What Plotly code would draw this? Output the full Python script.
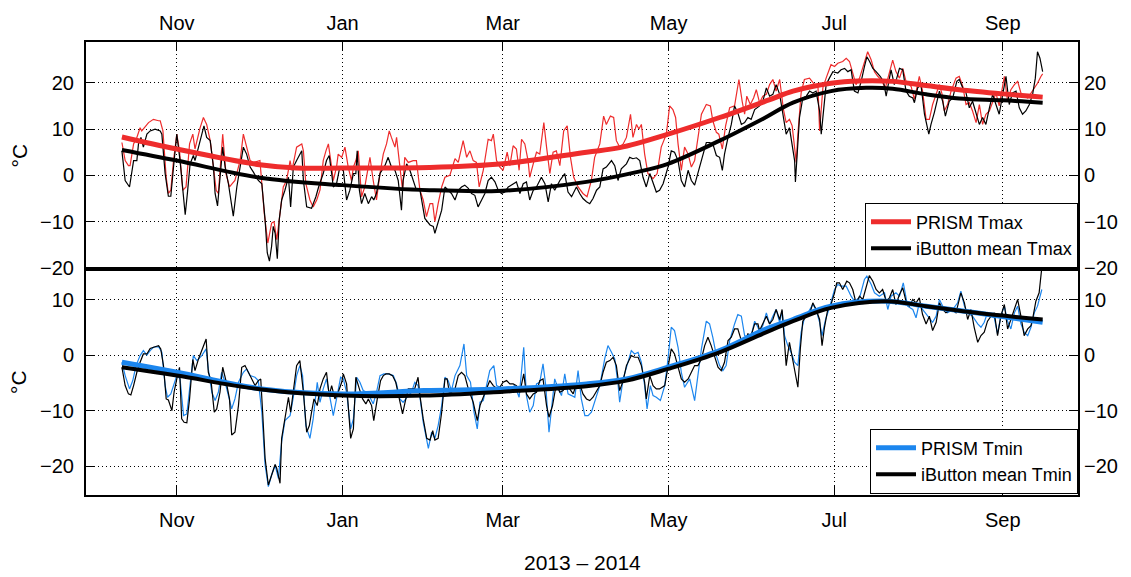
import numpy as np
import pandas as pd
import plotly.graph_objects as go

# ---------------- data (day offsets from 2013-11-01, values in degC) ----------------
BASE_DATE = "2013-11-01"
MONTH_TICKS = ["2013-11-01", "2014-01-01", "2014-03-01", "2014-05-01", "2014-07-01", "2014-09-01"]
MONTH_LABELS = ["Nov", "Jan", "Mar", "May", "Jul", "Sep"]
X_RANGE = ["2013-09-28 14:00", "2014-09-28 17:00"]

TMAX_TICKS = [-20, -10, 0, 10, 20]
TMIN_TICKS = [-20, -10, 0, 10]

# PRISM Tmax (daily)
TMAX_PRISM_D = [-20.2, -19.0, -17.8, -17.2, -15.9, -14.7, -13.5, -12.9, -10.4, -8.6, -6.7, -6.1, -5.1, -3.9, -3.1, -2.2, -1.2, 0.0, 1.0, 2.2, 3.4, 4.7, 5.9, 6.7, 8.6, 9.8, 11.0, 12.3, 13.2, 14.5, 15.3, 16.9, 18.1, 19.4, 21.4, 23.3, 24.5, 25.7, 27.0, 28.2, 30.6, 32.2, 33.5, 34.9, 35.8, 36.8, 38.0, 39.2, 40.4, 41.7, 42.4, 44.1, 46.0, 46.6, 47.5, 49.0, 50.2, 51.5, 52.7, 53.9, 54.9, 55.8, 57.0, 57.6, 58.8, 59.4, 60.7, 61.9, 63.1, 64.3, 65.0, 65.9, 66.8, 68.0, 69.2, 70.5, 71.1, 72.3, 73.5, 74.8, 76.0, 77.2, 78.2, 79.0, 80.3, 80.9, 82.1, 83.1, 83.9, 85.2, 87.0, 88.2,
                89.5, 90.7, 91.9, 93.2, 94.2, 95.0, 96.2, 97.5, 98.7, 100.5, 102.4, 103.6, 105.4, 106.7, 107.9, 109.1, 110.3, 111.3, 112.8, 114.6, 115.8, 116.5, 117.7, 118.9, 120.1, 121.6, 122.6, 123.8, 125.0, 126.0, 126.9, 128.1, 129.3, 129.9, 131.2, 132.4, 133.6, 135.1, 136.1, 137.3, 138.5, 139.7, 141.0, 142.4, 143.7, 144.9, 146.1, 147.7, 149.5, 151.0, 152.6, 153.8, 155.7, 157.1, 158.1, 159.6, 160.8, 161.8, 163.0, 164.3, 165.5, 167.0, 167.9, 169.2, 170.1, 171.0, 172.2, 173.4, 175.3, 176.8, 178.3, 180.2, 181.4, 182.6, 183.6, 184.5, 185.7, 186.9, 188.2, 189.4, 190.6, 191.8, 193.1, 194.9, 196.4, 197.3, 198.6, 199.5, 200.8, 202.0, 203.5, 205.3, 206.9, 208.1, 209.0, 209.8, 211.1, 212.3, 213.3,
                214.5, 215.7, 217.0, 218.2, 219.4, 220.6, 221.9, 222.5, 223.3, 224.3, 225.5, 226.5, 227.4, 228.0, 228.6, 229.8, 231.0, 232.9, 234.7, 236.0, 236.6, 237.8, 239.0, 240.8, 242.1, 243.3, 245.1, 246.4, 247.6, 248.8, 250.0, 251.3, 252.5, 254.3, 255.6, 256.8, 258.0, 259.2, 260.8, 262.3, 263.5, 264.7, 266.0, 267.2, 268.4, 270.3, 271.5, 273.3, 274.5, 275.8, 277.0, 278.2, 279.5, 280.7, 281.7, 282.5, 283.7, 285.0, 286.8, 288.0, 289.3, 290.5, 291.7, 292.9, 294.2, 295.4, 296.6, 297.8, 299.1, 300.3, 301.5, 302.7, 304.6, 305.8, 307.0, 308.3, 309.5, 310.7, 311.9, 313.2, 314.4, 315.6, 316.8, 318.1, 318.7]
TMAX_PRISM_V = [7.1, 3.2, 2.1, 2.1, 6.8, 8.2, 10.3, 9.6, 11.4, 12.1, 11.8, 11.8, 9.6, -0.4, -3.9, -3.2, 3.2, 8.9, 5.3, -3.2, -2.5, 6.8, 8.9, 5.7, 10.3, 12.5, 11.0, 7.5, 3.2, -3.2, -3.9, 8.9, 0.4, -2.5, -1.1, 3.2, 8.9, 6.1, 3.2, 2.8, 3.2, -8.2, -14.6, -10.3, -10.0, -13.9, -8.2, -2.5, -1.1, 3.2, 1.1, 6.1, 6.8, 5.3, -1.8, -5.3, -6.8, -5.3, -3.2, 3.2, 5.3, 6.8, 1.8, -1.1, 1.8, 4.6, 3.9, 6.1, 1.8, -1.1, 1.8, 3.2, 5.3, -4.6, -2.5, 1.8, 3.9, -1.1, -5.3, 0.4, 4.6, 6.8, 9.6, 8.2, 6.1, 8.2, 2.5, -3.2, 3.9, 2.8, 3.2, 3.2,
                -3.2, -5.3, -8.9, -6.1, -6.1, -10.0, -6.1, -2.5, -0.4, 0.0, 3.6, 2.8, 7.5, 3.9, 5.3, 3.2, 2.8, -2.5, 1.1, 7.8, 7.5, 8.9, 3.2, 1.8, 1.1, 5.0, 2.1, 6.4, 5.7, 1.1, 7.8, 6.8, 3.2, -0.4, 2.5, 5.0, 4.6, 11.4, 6.1, 0.4, 5.0, 5.3, 2.1, 9.6, 10.7, 3.9, -0.4, -2.5, -3.9, -4.6, -1.1, 3.9, 6.8, 12.8, 11.0, 12.8, 12.5, 7.5, 6.1, 6.8, 8.2, 13.2, 8.2, 11.0, 10.0, 11.0, 4.6, 0.4, -0.7, 0.4, 6.1, 8.9, 15.0, 14.2, 12.5, 6.8, 1.1, 6.1, 4.6, 1.8, 3.2, 8.2, 13.2, 15.3, 15.0, 11.8, 9.3, 8.9, 5.7, 10.7, 14.6, 15.0, 20.7, 16.0, 13.2, 17.1, 15.3, 16.7, 18.5,
                15.7, 17.1, 17.5, 19.6, 20.7, 18.2, 20.7, 17.8, 14.2, 11.4, 12.1, 10.7, 6.1, 2.8, 8.9, 17.8, 20.7, 21.0, 19.6, 19.2, 9.6, 18.9, 21.0, 23.9, 23.5, 24.2, 24.6, 25.3, 24.6, 22.1, 19.6, 21.0, 23.1, 26.7, 24.9, 22.4, 21.4, 20.7, 18.9, 22.1, 24.9, 22.4, 21.0, 23.1, 20.3, 19.2, 16.4, 21.4, 18.2, 12.1, 12.1, 15.3, 17.5, 19.6, 17.5, 13.9, 15.3, 18.2, 21.0, 21.4, 19.2, 15.3, 15.7, 13.9, 11.4, 15.3, 11.0, 13.2, 13.9, 16.0, 17.8, 15.0, 21.4, 16.0, 18.5, 19.6, 20.3, 17.8, 17.1, 16.7, 17.8, 18.9, 19.9, 21.4, 21.9]

# iButton mean Tmax (daily)
TMAX_IB_D = [-20.2, -19.0, -17.4, -15.9, -14.7, -14.1, -13.2, -12.3, -11.0, -9.8, -8.0, -6.1, -5.5, -4.3, -3.1, -2.2, -1.2, 0.0, 1.2, 3.1, 3.9, 4.9, 6.1, 6.7, 8.0, 9.2, 10.0, 11.0, 12.3, 13.5, 14.1, 15.0, 15.9, 16.9, 17.8, 19.0, 20.8, 22.1, 23.3, 24.5, 25.7, 27.0, 28.2, 30.0, 31.3, 32.5, 33.3, 34.1, 34.9, 35.5, 36.2, 37.0, 37.7, 38.6, 39.8, 41.1, 41.9, 42.9, 44.1, 46.0, 46.6, 47.8, 49.6, 51.2, 52.2, 53.9, 55.1, 56.1, 57.0, 57.6, 58.8, 60.0, 61.3, 62.5, 63.7, 65.0, 65.9, 66.4, 67.2, 68.0, 69.2, 70.5, 71.7, 72.5, 73.5, 74.8, 76.6, 77.8, 79.0, 80.3, 81.5, 82.7, 83.3, 84.6, 85.8, 87.0, 88.2,
             89.5, 91.3, 93.2, 94.4, 95.0, 96.2, 97.5, 98.7, 99.9, 101.1, 102.4, 103.6, 104.8, 106.0, 107.3, 108.5, 109.7, 110.9, 112.2, 113.4, 114.6, 115.8, 117.1, 118.3, 119.5, 120.7, 122.0, 123.8, 125.0, 126.3, 127.5, 128.7, 129.9, 131.2, 132.4, 134.2, 135.5, 136.7, 137.9, 139.1, 141.0, 142.8, 144.0, 145.3, 147.1, 148.3, 149.5, 150.8, 152.0, 153.2, 154.5, 155.7, 156.9, 158.1, 160.0, 161.2, 162.4, 163.6, 165.5, 166.7, 167.9, 169.2, 170.4, 171.6, 172.8, 174.1, 175.3, 176.5, 177.7, 179.0, 180.8, 182.0, 183.2, 184.5, 185.7, 186.9, 188.2, 189.4, 190.6, 191.8, 193.1, 194.9, 196.1, 197.3, 198.6, 199.8, 200.8, 201.6, 202.9, 204.1, 205.3, 206.5, 207.8, 209.0, 210.2, 211.4, 212.7,
             214.5, 215.7, 217.0, 218.2, 219.4, 220.6, 221.9, 223.1, 224.3, 225.5, 226.5, 227.4, 227.7, 228.3, 229.2, 230.4, 231.7, 232.9, 234.1, 235.3, 236.6, 237.2, 238.0, 239.0, 240.2, 241.5, 243.3, 244.5, 245.8, 247.0, 248.2, 249.4, 250.7, 251.9, 253.1, 254.0, 255.0, 256.2, 257.4, 258.9, 260.1, 261.1, 262.3, 262.9, 264.1, 265.0, 266.0, 267.2, 268.4, 269.6, 270.9, 271.5, 272.7, 273.9, 275.2, 276.8, 277.6, 278.8, 280.7, 281.9, 282.9, 284.3, 285.6, 287.1, 288.0, 289.3, 290.5, 291.7, 292.9, 294.2, 295.4, 296.6, 297.8, 299.1, 300.3, 301.5, 302.7, 304.0, 305.2, 306.4, 307.6, 308.9, 310.1, 311.3, 312.5, 313.8, 315.0, 316.0, 316.8, 317.7, 318.7]
TMAX_IB_V = [5.3, -1.1, -2.5, 3.2, 3.2, 6.8, 8.2, 6.1, 8.9, 9.6, 10.0, 9.6, 8.9, 0.4, -4.5, -4.5, 1.8, 8.9, 3.2, -8.5, -3.9, 2.5, 4.3, 3.2, 6.1, 8.9, 10.7, 8.2, 7.5, 1.8, -3.9, -6.6, 0.4, 6.1, 1.8, -1.8, -8.8, -2.5, 1.8, 6.1, 4.6, 1.8, 0.7, -1.1, -1.8, -9.6, -16.7, -18.5, -15.3, -11.0, -12.5, -18.0, -9.6, -5.3, -3.2, -0.4, -6.8, 1.8, 3.2, 5.3, -1.1, -6.8, -7.1, -4.6, -2.5, 0.4, 3.2, 4.3, 0.4, -2.5, -1.8, 1.8, 1.1, -5.3, -3.2, 0.4, 0.4, 5.3, -3.2, -6.1, -3.9, -6.1, -4.6, -5.3, -3.9, 0.4, 2.1, 3.9, 1.8, 1.1, -1.1, -7.5, -1.1, 2.5, 1.1, -1.1, -3.2,
             -3.2, -9.3, -10.7, -11.0, -12.5, -10.3, -7.5, -2.5, -3.2, -3.9, -5.3, -3.2, -2.5, -2.1, -2.8, -3.9, -4.3, -6.8, -5.3, -3.9, -1.1, -0.4, -1.4, -3.2, -3.9, -3.6, -2.5, -1.8, -1.4, -3.9, -1.8, -1.4, -5.3, -3.2, -2.5, -0.4, -1.8, -5.7, -1.8, -3.2, -1.1, 0.4, -3.6, -4.6, -2.5, -3.9, -5.0, -5.7, -6.1, -5.0, -3.2, -2.5, 1.4, 1.8, 3.2, 2.1, -1.1, 1.4, 2.5, 3.9, 3.6, 3.8, 3.2, -0.4, -2.5, 0.4, -1.8, -3.6, -3.2, -1.8, 1.8, 5.3, 5.0, 3.2, -1.1, -2.5, 1.1, -1.1, -2.1, 0.4, 3.2, 7.1, 7.1, 6.8, 4.3, 3.9, 1.1, 4.6, 8.2, 11.0, 15.0, 13.5, 11.0, 11.4, 12.5, 12.1, 14.2,
             15.0, 16.0, 18.9, 17.1, 17.5, 19.6, 17.5, 13.2, 8.9, 10.3, 6.8, 3.2, -1.4, 4.6, 12.5, 16.7, 17.1, 18.2, 17.8, 18.2, 13.9, 8.9, 13.2, 19.6, 21.0, 22.4, 22.1, 22.8, 23.1, 22.4, 22.8, 18.2, 17.8, 20.3, 23.5, 25.6, 24.6, 23.1, 22.4, 21.4, 20.3, 17.1, 21.0, 22.8, 19.6, 21.0, 23.1, 22.8, 18.2, 17.1, 16.7, 15.7, 18.9, 19.6, 13.2, 8.9, 11.0, 13.5, 18.2, 16.0, 12.8, 16.0, 16.7, 20.3, 20.7, 18.9, 17.8, 14.6, 16.0, 13.2, 11.0, 12.5, 11.0, 14.6, 17.5, 15.3, 13.2, 17.5, 21.4, 15.3, 17.8, 18.2, 14.6, 13.2, 13.9, 15.3, 17.5, 21.0, 26.7, 25.3, 22.4]

# PRISM Tmin (daily)
TMIN_PRISM_D = [-20.2, -19.0, -17.4, -16.2, -15.0, -13.5, -12.3, -11.0, -9.8, -8.6, -6.7, -5.5, -4.3, -3.4, -2.2, -1.0, 0.0, 1.2, 2.5, 3.7, 4.9, 6.1, 7.4, 9.2, 10.8, 11.6, 12.9, 14.1, 15.3, 16.5, 17.8, 19.0, 20.2, 21.4, 22.7, 24.5, 25.7, 27.0, 28.8, 30.0, 31.3, 32.5, 33.7, 34.9, 36.2, 37.4, 38.6, 39.8, 41.7, 42.9, 44.1, 45.3, 46.3, 47.5, 49.0, 50.2, 51.7, 52.7, 53.9, 55.1, 56.4, 57.6, 58.8, 60.3, 61.3, 62.5, 64.0, 65.0, 66.2, 67.4, 68.6, 69.9, 71.1, 72.3, 73.5, 74.8, 76.2, 77.8, 79.7, 80.9, 82.1, 83.3, 85.2, 86.4, 87.6, 88.8,
                89.5, 90.7, 92.6, 93.8, 95.0, 96.2, 97.5, 98.7, 99.9, 101.1, 102.4, 104.2, 105.7, 106.7, 108.1, 109.4, 110.6, 111.6, 112.8, 114.0, 115.2, 116.7, 117.7, 118.9, 120.1, 121.4, 123.2, 124.4, 126.0, 127.7, 128.7, 129.9, 131.2, 132.4, 133.6, 134.8, 135.8, 137.0, 137.9, 139.1, 140.4, 141.6, 142.8, 144.0, 145.3, 146.5, 147.7, 148.9, 150.2, 151.4, 152.6, 153.8, 155.7, 157.5, 158.7, 160.0, 161.2, 162.4, 163.0, 164.3, 165.7, 167.3, 168.5, 169.8, 171.0, 172.2, 173.1, 174.3, 175.3, 176.5, 178.0, 179.6, 180.8, 182.0, 183.2, 184.5, 185.7, 186.9, 188.8, 189.7, 190.6, 191.8, 193.1, 194.9, 196.1, 197.3, 198.6, 199.8, 201.0, 202.2, 203.5, 205.3, 206.5, 207.8, 209.0, 210.2, 211.4, 212.7, 213.9,
                214.5, 215.7, 217.0, 218.2, 219.4, 220.6, 221.9, 222.8, 223.7, 224.9, 226.1, 227.4, 228.6, 229.8, 231.0, 232.3, 234.1, 235.3, 236.6, 237.5, 238.8, 240.2, 242.1, 243.3, 244.5, 246.4, 248.2, 249.4, 251.3, 253.1, 254.0, 255.6, 256.8, 258.6, 260.5, 261.7, 262.9, 264.7, 266.0, 267.4, 269.0, 270.9, 272.1, 273.3, 274.5, 276.4, 278.2, 279.5, 280.7, 282.5, 283.7, 285.6, 287.4, 288.6, 289.9, 291.1, 292.9, 294.8, 296.0, 297.2, 298.4, 299.7, 300.9, 302.1, 303.3, 304.6, 305.8, 307.0, 308.3, 309.5, 310.7, 311.9, 313.2, 314.4, 315.6, 316.8, 318.4]
TMIN_PRISM_V = [-1.3, -3.7, -6.1, -4.6, -1.9, -0.1, 0.8, 0.0, 0.8, 1.4, 1.5, 0.5, -5.5, -7.6, -7.0, -5.2, -3.7, -4.3, -10.9, -10.6, -4.9, -0.1, -1.0, -0.1, 1.1, -2.5, -6.7, -8.2, -6.7, -3.1, -4.9, -7.3, -9.7, -7.9, -4.9, -3.1, -2.5, -3.7, -4.0, -4.6, -10.3, -19.8, -23.7, -21.6, -19.8, -22.2, -15.6, -11.8, -10.9, -7.6, -3.7, -1.9, -3.7, -12.7, -15.0, -11.5, -4.9, -8.5, -6.1, -4.3, -7.9, -10.9, -7.9, -4.0, -4.3, -6.7, -13.3, -11.5, -4.0, -4.9, -6.4, -6.7, -7.6, -8.8, -6.7, -3.7, -3.4, -3.4, -3.7, -5.2, -7.9, -8.5, -7.3, -6.7, -4.9, -5.5,
                -7.6, -12.1, -16.8, -13.9, -15.0, -12.7, -9.1, -4.0, -4.6, -6.4, -3.7, -1.9, 2.0, -3.7, -4.9, -10.3, -13.3, -8.5, -8.2, -5.2, -2.8, -1.9, -5.5, -5.8, -6.4, -5.8, -5.8, -5.5, -7.6, 1.4, -7.3, -10.3, -9.1, -5.2, -4.9, -1.6, -5.5, -13.9, -9.7, -4.3, -6.1, -7.3, -3.4, -7.0, -7.3, -7.6, -2.8, -7.9, -10.9, -10.9, -10.3, -8.5, -5.5, -0.7, 1.7, 0.5, -0.7, -5.2, -8.5, -4.3, -1.9, 0.8, 0.2, 0.5, -1.3, -5.5, -9.7, -5.5, -7.3, -7.6, -8.2, -5.5, -0.7, 5.0, 4.4, 1.4, -3.1, -5.8, -4.3, -6.1, -8.2, -3.7, 1.1, 6.1, 5.6, 3.2, -0.1, -1.9, -2.8, -1.9, 2.6, 5.6, 7.3, 7.0, 3.5, 3.2, 3.5, 6.1, 5.0,
                4.1, 5.3, 7.6, 5.6, 7.0, 8.2, 5.9, 7.9, 3.5, 1.7, 0.5, -1.3, -1.9, 4.1, 6.7, 7.6, 9.1, 8.2, 5.9, 3.5, 6.4, 8.5, 11.8, 12.7, 12.4, 12.4, 10.6, 9.7, 10.3, 13.6, 14.2, 12.7, 11.2, 10.6, 11.2, 8.2, 10.6, 11.2, 10.6, 13.0, 8.8, 8.2, 6.7, 9.4, 8.2, 7.0, 5.9, 7.0, 10.0, 8.2, 7.6, 8.2, 9.4, 11.5, 8.8, 7.6, 7.0, 5.6, 5.0, 5.9, 7.6, 7.0, 6.7, 3.8, 7.0, 8.8, 6.1, 4.7, 7.6, 8.8, 5.6, 4.1, 3.5, 5.0, 7.6, 8.8, 11.8]

# iButton mean Tmin (daily)
TMIN_IB_D = [-20.2, -19.0, -17.8, -16.9, -15.9, -14.7, -13.5, -12.3, -11.0, -9.8, -8.0, -6.7, -5.9, -4.9, -3.9, -3.1, -1.8, -1.0, 0.0, 1.0, 1.8, 2.7, 3.7, 4.7, 5.9, 6.7, 8.0, 9.2, 10.8, 11.6, 12.6, 13.8, 14.7, 15.9, 16.9, 18.1, 19.4, 20.2, 21.4, 22.7, 23.9, 25.1, 26.3, 27.6, 28.8, 30.0, 30.9, 31.6, 32.5, 33.7, 34.9, 36.2, 36.8, 38.0, 38.6, 39.8, 41.1, 41.9, 42.9, 44.1, 45.3, 46.6, 47.8, 48.8, 49.6, 50.5, 51.7, 52.7, 53.9, 55.1, 56.1, 57.0, 58.2, 59.4, 60.7, 61.3, 62.5, 64.0, 65.0, 65.9, 67.2, 68.4, 69.6, 70.5, 71.7, 72.5, 73.8, 75.0, 76.0, 77.0, 78.2, 79.4, 80.6, 81.9, 83.1, 84.3, 85.2, 86.4, 87.6, 88.8,
             89.5, 90.7, 92.0, 93.2, 94.2, 95.0, 96.2, 97.5, 98.7, 99.5, 100.3, 101.1, 102.4, 103.6, 104.8, 106.0, 107.3, 109.1, 110.6, 111.6, 112.8, 114.0, 115.2, 116.5, 117.9, 118.9, 120.1, 121.4, 122.6, 123.8, 125.0, 126.3, 127.7, 128.7, 129.9, 131.2, 132.4, 133.6, 134.8, 136.1, 137.0, 138.3, 139.7, 141.0, 142.2, 143.4, 144.6, 145.9, 147.1, 148.3, 149.5, 150.8, 152.0, 153.2, 154.5, 155.7, 156.9, 158.1, 159.4, 160.6, 161.8, 163.0, 164.3, 165.5, 167.3, 168.5, 169.8, 171.0, 172.2, 172.8, 174.1, 175.3, 176.5, 177.7, 179.6, 180.8, 182.0, 183.2, 184.5, 185.7, 186.9, 188.2, 189.4, 190.6, 191.8, 193.1, 194.3, 195.5, 196.7, 198.0, 199.2, 200.4, 201.6, 202.9, 204.1, 205.3, 206.5, 207.8, 209.0, 210.2, 211.4, 212.7, 213.9,
             214.5, 215.7, 217.0, 218.2, 219.4, 220.6, 221.9, 222.8, 223.7, 224.3, 225.5, 226.8, 228.0, 228.6, 229.5, 230.4, 231.7, 232.9, 234.1, 235.3, 236.6, 237.5, 238.4, 239.6, 240.8, 242.1, 242.9, 243.9, 245.1, 246.6, 247.6, 248.8, 250.0, 251.3, 252.5, 253.7, 254.9, 256.2, 257.4, 258.6, 259.8, 261.1, 262.3, 263.5, 264.7, 266.0, 267.2, 268.4, 269.6, 270.9, 272.1, 273.3, 274.5, 275.8, 277.0, 278.2, 279.5, 280.7, 281.9, 283.1, 285.0, 286.8, 288.6, 289.9, 291.1, 292.3, 293.5, 294.8, 296.0, 297.2, 298.4, 299.7, 300.9, 302.1, 303.3, 304.6, 305.8, 307.0, 308.3, 309.5, 310.7, 311.9, 313.2, 314.4, 315.2, 316.2, 317.4, 318.1, 318.7]
TMIN_IB_V = [-2.2, -5.5, -7.0, -7.2, -5.5, -3.1, -1.3, 0.2, 0.2, 1.2, 1.5, 1.7, 1.1, -1.9, -7.9, -8.1, -10.0, -6.7, -4.3, -2.2, -11.5, -12.1, -12.2, -7.9, -0.8, -2.8, -0.7, 0.8, 2.9, -3.1, -4.6, -10.3, -9.7, -6.7, -2.2, -4.6, -7.9, -14.4, -13.9, -9.1, -2.2, -1.9, -3.1, -4.6, -5.5, -4.6, -4.3, -10.3, -18.6, -23.4, -21.6, -19.7, -20.4, -23.1, -15.0, -11.5, -7.6, -10.3, -6.7, -1.9, -1.0, -6.7, -13.9, -12.7, -10.3, -7.9, -9.1, -6.1, -4.3, -3.1, -7.3, -5.5, -7.9, -6.7, -4.9, -3.4, -5.2, -15.0, -13.3, -4.0, -6.1, -7.9, -8.8, -7.9, -9.1, -11.8, -7.9, -4.6, -3.7, -3.4, -3.4, -3.7, -4.9, -7.9, -10.6, -7.9, -6.1, -6.1, -6.0, -4.0,
             -7.3, -11.5, -15.0, -15.3, -13.6, -15.3, -15.0, -10.3, -4.3, -4.3, -6.7, -6.7, -6.1, -3.7, -3.1, -3.7, -6.1, -8.5, -11.8, -9.1, -7.6, -6.4, -4.6, -5.5, -6.1, -5.8, -4.9, -4.6, -5.2, -5.2, -5.5, -6.7, -3.4, -7.0, -7.9, -7.0, -6.7, -4.6, -4.3, -9.1, -11.2, -9.1, -5.2, -6.7, -6.4, -5.5, -6.1, -7.0, -5.2, -5.2, -7.0, -7.9, -8.2, -7.6, -6.4, -5.5, -3.1, -1.3, -1.0, -0.4, -1.9, -6.4, -4.6, -1.9, -0.1, -0.4, -0.4, -1.9, -4.9, -7.9, -3.7, -5.5, -6.1, -6.1, -5.5, -2.2, 1.1, 0.2, -1.9, -4.3, -4.9, -4.3, -3.1, -1.9, -1.9, -0.7, 1.7, 3.2, 1.7, -0.4, -2.2, -2.8, -1.3, 2.6, 3.2, 4.7, 4.7, 2.6, 2.3, 3.8, 3.5, 5.6, 5.6,
             4.4, 5.6, 7.0, 5.6, 6.4, 8.2, 6.4, 8.2, 1.1, -1.9, 2.3, -1.3, -4.3, -5.8, 1.1, 6.1, 7.0, 7.3, 9.4, 8.2, 6.4, 1.7, 5.0, 8.2, 9.1, 11.2, 13.0, 13.0, 11.8, 13.3, 13.0, 11.8, 9.4, 10.6, 10.0, 12.4, 14.3, 13.3, 11.8, 11.2, 11.8, 9.7, 10.3, 11.8, 9.1, 10.9, 12.1, 9.7, 8.8, 10.0, 9.4, 10.3, 7.3, 5.6, 7.0, 4.4, 5.9, 9.4, 8.2, 7.6, 8.2, 7.6, 11.2, 9.4, 6.4, 8.2, 5.0, 2.3, 3.5, 4.1, 6.1, 7.0, 7.6, 3.5, 7.0, 9.1, 4.7, 6.4, 8.2, 10.0, 7.0, 3.5, 4.7, 5.3, 7.0, 9.7, 11.2, 15.4, 17.2]

# smoothed seasonal curves (read at sparse points)
TMAX_PRISM_SM_D = [-20.2, 0, 30.6, 44, 61, 93, 120, 150.8, 163, 180.8, 199.8, 218, 226.8, 240.8, 251.3, 263.5, 275.8, 288, 304, 318.7]
TMAX_PRISM_SM_V = [8.3, 5.7, 2.3, 1.6, 1.6, 1.7, 2.5, 5.0, 6.0, 8.9, 12.5, 16.3, 18.2, 19.9, 20.4, 20.3, 19.4, 18.5, 17.6, 16.9]
TMAX_IB_SM_D = [-20.2, 0, 30.6, 61, 93, 120, 150.8, 169.2, 180.8, 199.8, 216, 226.8, 240.8, 253.7, 263.5, 275.8, 288, 304, 318.7]
TMAX_IB_SM_V = [5.5, 3.2, -0.5, -2.1, -3.2, -3.3, -1.4, 0.7, 2.5, 7.5, 12.3, 15.7, 18.2, 18.9, 18.7, 17.5, 16.6, 16.2, 15.7]
TMIN_PRISM_SM_D = [-20.2, 0, 31.2, 61.3, 91, 120, 150.8, 165.5, 180.8, 199.8, 216, 226.8, 240.8, 261, 275.8, 294.2, 318.7]
TMIN_PRISM_SM_V = [-1.3, -3.1, -6.1, -7.0, -6.4, -6.1, -5.2, -4.3, -2.2, 0.8, 4.5, 6.4, 8.8, 9.7, 8.8, 7.6, 5.9]
TMIN_IB_SM_D = [-20.2, 0, 31.2, 61.3, 91, 120, 150.8, 165.5, 180.8, 199.8, 216, 226.8, 240.8, 261, 275.8, 294.2, 318.7]
TMIN_IB_SM_V = [-2.2, -3.7, -6.2, -7.3, -7.3, -6.6, -5.6, -4.6, -2.5, 0.5, 3.9, 6.1, 8.5, 9.7, 8.8, 7.6, 6.4]

# ---------------- helpers ----------------
base = pd.Timestamp(BASE_DATE)


def to_dates(days):
    return base + pd.to_timedelta(np.asarray(days, dtype=float), unit="D")


RED = "#EE2C2C"
BLUE = "#1C86EE"
BLACK = "#000000"
FONT = "Liberation Sans, Arial, sans-serif"
GRID_DASH = "1px,3px"

fig = go.Figure()

# top panel (xaxis2 / yaxis)
fig.add_trace(go.Scatter(x=to_dates(TMAX_PRISM_D), y=TMAX_PRISM_V, mode="lines",
                         line=dict(color=RED, width=1.2), xaxis="x2", yaxis="y", showlegend=False))
fig.add_trace(go.Scatter(x=to_dates(TMAX_IB_D), y=TMAX_IB_V, mode="lines",
                         line=dict(color=BLACK, width=1.2), xaxis="x2", yaxis="y", showlegend=False))
fig.add_trace(go.Scatter(x=to_dates(TMAX_PRISM_SM_D), y=TMAX_PRISM_SM_V, mode="lines", name="PRISM Tmax",
                         line=dict(color=RED, width=5, shape="spline", smoothing=1.0),
                         xaxis="x2", yaxis="y", legend="legend"))
fig.add_trace(go.Scatter(x=to_dates(TMAX_IB_SM_D), y=TMAX_IB_SM_V, mode="lines", name="iButton mean Tmax",
                         line=dict(color=BLACK, width=4, shape="spline", smoothing=1.0),
                         xaxis="x2", yaxis="y", legend="legend"))

# bottom panel (xaxis / yaxis2)
fig.add_trace(go.Scatter(x=to_dates(TMIN_PRISM_D), y=TMIN_PRISM_V, mode="lines",
                         line=dict(color=BLUE, width=1.2), xaxis="x", yaxis="y2", showlegend=False))
fig.add_trace(go.Scatter(x=to_dates(TMIN_IB_D), y=TMIN_IB_V, mode="lines",
                         line=dict(color=BLACK, width=1.2), xaxis="x", yaxis="y2", showlegend=False))
fig.add_trace(go.Scatter(x=to_dates(TMIN_PRISM_SM_D), y=TMIN_PRISM_SM_V, mode="lines", name="PRISM Tmin",
                         line=dict(color=BLUE, width=5, shape="spline", smoothing=1.0),
                         xaxis="x", yaxis="y2", legend="legend2"))
fig.add_trace(go.Scatter(x=to_dates(TMIN_IB_SM_D), y=TMIN_IB_SM_V, mode="lines", name="iButton mean Tmin",
                         line=dict(color=BLACK, width=4, shape="spline", smoothing=1.0),
                         xaxis="x", yaxis="y2", legend="legend2"))

# invisible traces to activate right-side label axes
fig.add_trace(go.Scatter(x=[to_dates([0])[0]], y=[0], mode="markers", marker=dict(opacity=0),
                         xaxis="x2", yaxis="y3", showlegend=False, hoverinfo="skip"))
fig.add_trace(go.Scatter(x=[to_dates([0])[0]], y=[0], mode="markers", marker=dict(opacity=0),
                         xaxis="x", yaxis="y4", showlegend=False, hoverinfo="skip"))

SPLIT = 0.499
TOP_RANGE = [-20.2, 28.8]
BOT_RANGE = [-25.2, 15.5]

xcommon = dict(range=X_RANGE, type="date", tickvals=MONTH_TICKS, ticktext=MONTH_LABELS,
               ticks="inside", ticklen=9, tickwidth=1, tickcolor=BLACK,
               showgrid=True, gridcolor=BLACK, griddash=GRID_DASH, gridwidth=1,
               showline=True, linecolor=BLACK, linewidth=2, mirror=True,
               tickfont=dict(family=FONT, size=20, color=BLACK), zeroline=False)
ycommon = dict(ticks="inside", ticklen=9, tickwidth=1, tickcolor=BLACK,
               showgrid=True, gridcolor=BLACK, griddash=GRID_DASH, gridwidth=1,
               showline=True, linecolor=BLACK, linewidth=2, mirror="ticks",
               tickfont=dict(family=FONT, size=20, color=BLACK), zeroline=False)

fig.update_layout(
    width=1131, height=577,
    margin=dict(l=86, r=53, t=38, b=82, pad=0),
    paper_bgcolor="white", plot_bgcolor="white",
    font=dict(family=FONT, color=BLACK),
    xaxis=dict(**xcommon, domain=[0, 1], anchor="y2", side="bottom", ticklabelstandoff=6),
    xaxis2=dict(**xcommon, domain=[0, 1], anchor="y", side="top", matches="x", ticklabelstandoff=2),
    yaxis=dict(**ycommon, domain=[SPLIT, 1], anchor="x2", range=TOP_RANGE, tickvals=TMAX_TICKS,
               ticklabelstandoff=6),
    yaxis2=dict(**ycommon, domain=[0, SPLIT], anchor="x", range=BOT_RANGE, tickvals=TMIN_TICKS,
                ticklabelstandoff=6),
    yaxis3=dict(overlaying="y", side="right", anchor="x2", range=TOP_RANGE, tickvals=TMAX_TICKS,
                showgrid=False, zeroline=False, showline=False, ticks="",
                tickfont=dict(family=FONT, size=20, color=BLACK), ticklabelstandoff=5),
    yaxis4=dict(overlaying="y2", side="right", anchor="x", range=BOT_RANGE, tickvals=TMIN_TICKS,
                showgrid=False, zeroline=False, showline=False, ticks="",
                tickfont=dict(family=FONT, size=20, color=BLACK), ticklabelstandoff=5),
    legend=dict(x=1, y=SPLIT + 0.003, xanchor="right", yanchor="bottom",
                bgcolor="white", bordercolor=BLACK, borderwidth=1,
                font=dict(family=FONT, size=18, color=BLACK), traceorder="normal",
                itemwidth=40, tracegroupgap=0),
    legend2=dict(x=1, y=0.003, xanchor="right", yanchor="bottom",
                 bgcolor="white", bordercolor=BLACK, borderwidth=1,
                 font=dict(family=FONT, size=18, color=BLACK), traceorder="normal",
                 itemwidth=40, tracegroupgap=0),
    annotations=[
        dict(text="°C", xref="paper", yref="paper", x=-0.0675, y=(SPLIT + 1) / 2,
             xanchor="center", yanchor="middle",
             textangle=-90, showarrow=False, font=dict(family=FONT, size=21, color=BLACK)),
        dict(text="°C", xref="paper", yref="paper", x=-0.0675, y=SPLIT / 2,
             xanchor="center", yanchor="middle",
             textangle=-90, showarrow=False, font=dict(family=FONT, size=21, color=BLACK)),
        dict(text="2013 – 2014", xref="paper", yref="paper", x=0.5, y=-0.149,
             yanchor="middle", showarrow=False, font=dict(family=FONT, size=21, color=BLACK)),
    ],
    showlegend=True,
)

fig.write_html("out.html")
